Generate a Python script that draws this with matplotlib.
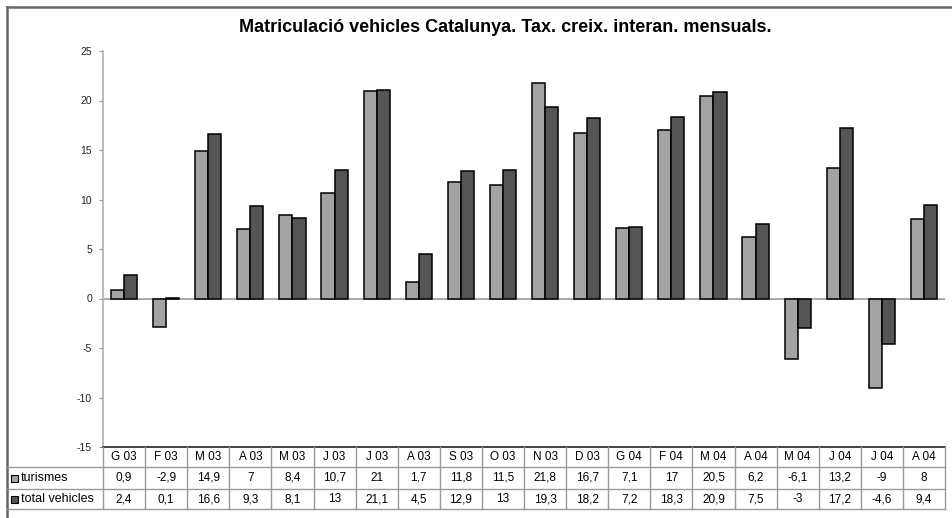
import matplotlib.pyplot as plt
import numpy as np
from matplotlib.lines import Line2D
from matplotlib.patches import Rectangle

months = ['G 03', 'F 03', 'M 03', 'A 03', 'M 03', 'J 03', 'J 03', 'A 03', 'S 03', 'O 03',
          'N 03', 'D 03', 'G 04', 'F 04', 'M 04', 'A 04', 'M 04', 'J 04', 'J 04', 'A 04']
turismes = [0.9, -2.9, 14.9, 7, 8.4, 10.7, 21, 1.7, 11.8, 11.5,
            21.8, 16.7, 7.1, 17, 20.5, 6.2, -6.1, 13.2, -9, 8]
total_vehicles = [2.4, 0.1, 16.6, 9.3, 8.1, 13, 21.1, 4.5, 12.9, 13,
                  19.3, 18.2, 7.2, 18.3, 20.9, 7.5, -3, 17.2, -4.6, 9.4]
series_names = ['turismes', 'total vehicles']
yticks = [-15, -10, -5, 0, 5, 10, 15, 20, 25]

c_light = '#a3a3a3'
c_dark = '#555555'
grid_c = '#9a9a9a'
W, H = 952, 518


def fx(px):
    return px / W


def fy(py):
    return 1 - py / H


def fmt(v):
    return f'{v:g}'.replace('.', ',')


plt.rcParams['font.family'] = ['Liberation Sans', 'DejaVu Sans']
fig = plt.figure(figsize=(9.52, 5.18), dpi=100)

# plot area: x 103..945, y 51..447 (pixels)
ax = fig.add_axes([fx(103), fy(447), fx(945) - fx(103), fy(51) - fy(447)])
n = len(months)
x = np.arange(n) + 0.5
bw = 0.31
ax.bar(x - bw / 2, turismes, bw, color=c_light, edgecolor='black', linewidth=1.1, zorder=3)
ax.bar(x + bw / 2, total_vehicles, bw, color=c_dark, edgecolor='black', linewidth=1.1, zorder=3)
ax.axhline(0, color=grid_c, linewidth=1.2, zorder=2)
ax.set_xlim(0, n)
ax.set_ylim(-15, 25)
ax.set_yticks(yticks)
ax.set_yticklabels([str(t) for t in yticks], fontsize=7.5, color='#222222')
ax.tick_params(axis='y', length=3, color=grid_c, pad=5)
ax.set_xticks([])
for s in ['top', 'right', 'bottom']:
    ax.spines[s].set_visible(False)
ax.spines['left'].set_color('#b0b0b0')
ax.spines['left'].set_linewidth(1.2)

fig.text(fx(505), fy(27), 'Matriculació vehicles Catalunya. Tax. creix. interan. mensuals.',
         ha='center', va='center', fontsize=13, fontweight='bold')

# outer frame (top and left edges)
fig.add_artist(Line2D([fx(7), 1], [fy(7), fy(7)], color='#666666', linewidth=1.8))
fig.add_artist(Line2D([fx(7), fx(7)], [fy(7), 0], color='#666666', linewidth=1.8))

# data table
x0, x1 = 103, 945
col_w = (x1 - x0) / n
rows_y = [447, 467, 489, 509]
fig.add_artist(Line2D([fx(x0), fx(x1)], [fy(447), fy(447)], color='#333333', linewidth=1.3))
for ry in rows_y[1:]:
    fig.add_artist(Line2D([fx(7), fx(x1)], [fy(ry), fy(ry)], color=grid_c, linewidth=1))
for i in range(n + 1):
    cx = x0 + i * col_w
    fig.add_artist(Line2D([fx(cx), fx(cx)], [fy(447), fy(509)], color=grid_c, linewidth=1))

for i, m in enumerate(months):
    cx = x0 + (i + 0.5) * col_w
    fig.text(fx(cx), fy(457), m, ha='center', va='center', fontsize=8.5)
    fig.text(fx(cx), fy(478), fmt(turismes[i]), ha='center', va='center', fontsize=8.5)
    fig.text(fx(cx), fy(499), fmt(total_vehicles[i]), ha='center', va='center', fontsize=8.5)

for name, col, ry in zip(series_names, [c_light, c_dark], [478, 499]):
    fig.add_artist(Rectangle((fx(11), fy(ry + 3.5)), fx(7), 7 / H, facecolor=col,
                             edgecolor='black', linewidth=0.8, transform=fig.transFigure))
    fig.text(fx(21), fy(ry), name, ha='left', va='center', fontsize=9)

fig.savefig('out.png', dpi=100)
